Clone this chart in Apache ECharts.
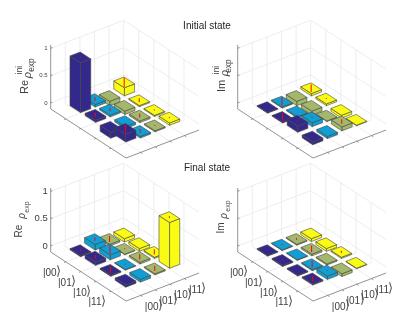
<!DOCTYPE html>
<html><head><meta charset="utf-8">
<style>html,body{margin:0;padding:0;background:#fff}#c{width:415px;height:317px}</style>
<script src="https://cdn.jsdelivr.net/npm/echarts@6/dist/echarts.min.js"></script>
</head><body><div id="c"></div>
<script>
const kets = ['|00','|01','|10','|11'];
const ketClose = '⟩';
const zTicks = [0, 0.5, 1];
const zTickLabels = ['0', '0.5', '1'];
const columnColors = ['#33288b', '#0f9fd6', '#a3b86d', '#fafb14'];

const reIniValues = [
  [0.91, 0.045, -0.08, 0.146],
  [0.04, 0.03, -0.06, -0.02],
  [-0.11, -0.04, -0.03, -0.02],
  [0.14, -0.03, -0.02, 0.04]];
const reIniErrors = [
  [0.01, 0.035, 0, 0.085],
  [0.035, 0.03, 0, 0.035],
  [0, 0, 0.035, 0.01],
  [0.08, 0.035, 0.008, 0.008]];
const imIniValues = [
  [-0.01, -0.02, -0.08, 0.04],
  [-0.01, -0.02, -0.07, 0.03],
  [0.11, 0.07, -0.01, -0.05],
  [-0.05, -0.04, 0.07, -0.01]];
const imIniErrors = [
  [0, 0.075, 0, 0.07],
  [0.07, 0, 0, 0.008],
  [0.01, 0.01, 0, 0],
  [0, 0, 0.04, 0]];
const reFinValues = [
  [-0.02, 0.10, -0.03, -0.06],
  [0.06, 0.09, -0.01, -0.05],
  [-0.02, -0.01, 0.03, 0.02],
  [-0.04, -0.05, -0.02, 0.835]];
const reFinErrors = [
  [0.02, 0.03, 0.055, 0],
  [0.03, 0.075, 0.008, 0],
  [0.06, 0.008, 0.05, 0.045],
  [0, 0, 0.045, 0.015]];
const imFinValues = [
  [-0.01, -0.01, -0.015, -0.05],
  [-0.02, -0.01, -0.03, -0.05],
  [-0.015, -0.02, -0.02, 0.02],
  [0.02, 0.06, -0.05, -0.01]];
const imFinErrors = [
  [0, 0.012, 0.015, 0],
  [0.008, 0, 0.06, 0],
  [0, 0.06, 0, 0.02],
  [0.05, 0.006, 0, 0]];

const panels = [
  {vals: reIniValues, errs: reIniErrors, L: [50.7, 109], zLabels: true, tickFont: 6, kets: false},
  {vals: imIniValues, errs: imIniErrors, L: [237.7, 109], zLabels: false, tickFont: 6, kets: false},
  {vals: reFinValues, errs: reFinErrors, L: [50.7, 252], zLabels: true, tickFont: 9.5, kets: true},
  {vals: imFinValues, errs: imFinErrors, L: [237.7, 252], zLabels: false, tickFont: 9.5, kets: true}
];

const barW = 0.7, floorZ = -0.11, topZ = 1;
const projX = (R, C) => 15.07 * R + 14.6 * C;
const projY = (R, C, z) => -9.8 * R + 5.6 * C + 54.7 * (z - floorZ);
const XR = [-40, 170], YR = [-60, 100];

const grids = [], xAxes = [], yAxes = [], series = [];

panels.forEach((p, pi) => {
  grids.push({left: p.L[0] + XR[0], top: p.L[1] - YR[1], width: XR[1] - XR[0], height: YR[1] - YR[0], show: false});
  xAxes.push({type: 'value', gridIndex: pi, min: XR[0], max: XR[1], show: false});
  yAxes.push({type: 'value', gridIndex: pi, min: YR[0], max: YR[1], show: false});

  const segs = [];
  [1, 2, 3, 4].forEach(i => {
    segs.push([i, 0, floorZ, i, 5, floorZ, 0]);
    segs.push([0, i, floorZ, 5, i, floorZ, 0]);
    segs.push([0, i, floorZ, 0, i, topZ, 0]);
    segs.push([i, 5, floorZ, i, 5, topZ, 0]);
    segs.push([i, 0, floorZ, i, -0.12, floorZ, 1]);
    segs.push([5, i, floorZ, 5.12, i, floorZ, 1]);
  });
  segs.push([0, 5, floorZ, 0, 5, topZ, 0]);
  zTicks.forEach(z => {
    segs.push([0, 0, z, 0, 5, z, 0]);
    segs.push([0, 5, z, 5, 5, z, 0]);
    segs.push([0, 0, z, 0, 0.12, z, 1]);
  });
  segs.push([0, 0, floorZ, 0, 0, 1.06, 1]);
  segs.push([0, 0, floorZ, 5, 0, floorZ, 1]);
  segs.push([5, 0, floorZ, 5, 5, floorZ, 1]);

  series.push({
    type: 'custom', xAxisIndex: pi, yAxisIndex: pi, silent: true, animation: false, clip: false,
    data: segs,
    encode: {x: 0, y: 1},
    renderItem(params, api) {
      const a = api.coord([projX(api.value(0), api.value(1)), projY(api.value(0), api.value(1), api.value(2))]);
      const b = api.coord([projX(api.value(3), api.value(4)), projY(api.value(3), api.value(4), api.value(5))]);
      const dark = api.value(6) === 1;
      return {type: 'line', shape: {x1: a[0], y1: a[1], x2: b[0], y2: b[1]},
        style: {stroke: dark ? '#777' : '#e9e9e9', lineWidth: 0.8}};
    }
  });

  const bars = [];
  for (let r = 0; r < 4; r++) for (let c = 3; c >= 0; c--) bars.push([r, c, p.vals[r][c], p.errs[r][c]]);
  series.push({
    type: 'custom', xAxisIndex: pi, yAxisIndex: pi, silent: true, animation: false, clip: false,
    data: bars,
    encode: {x: 0, y: 1},
    renderItem(params, api) {
      const r = api.value(0), c = api.value(1), v = api.value(2), e = api.value(3);
      const R = r + 1, C = c + 1, h = barW / 2;
      const zt = Math.max(0, v), zb = Math.min(0, v);
      const pt = (a, b, z) => api.coord([projX(a, b), projY(a, b, z)]);
      const style = {fill: columnColors[c], stroke: '#45453a', lineWidth: 0.6};
      const poly = pts => ({type: 'polygon', shape: {points: pts}, style});
      const kids = [
        poly([pt(R + h, C - h, zb), pt(R + h, C + h, zb), pt(R + h, C + h, zt), pt(R + h, C - h, zt)]),
        poly([pt(R - h, C - h, zb), pt(R + h, C - h, zb), pt(R + h, C - h, zt), pt(R - h, C - h, zt)]),
        poly([pt(R - h, C - h, zt), pt(R + h, C - h, zt), pt(R + h, C + h, zt), pt(R - h, C + h, zt)])
      ];
      if (e > 0) {
        const a = pt(R, C, zt - e), b = pt(R, C, zt + e);
        kids.push({type: 'line', shape: {x1: a[0], y1: a[1], x2: b[0], y2: b[1]}, style: {stroke: '#ff0000', lineWidth: 1}});
      }
      return {type: 'group', children: kids};
    }
  });

  const labels = [];
  if (p.zLabels) zTicks.forEach((z, i) => labels.push([0, 0, z, -3, 0, 0, i]));
  if (p.kets) kets.forEach((k, i) => {
    labels.push([i + 1, 0, floorZ, -14, 10, 1, i]);
    labels.push([5, i + 1, floorZ, 13, 10, 1, i]);
  });
  series.push({
    type: 'custom', xAxisIndex: pi, yAxisIndex: pi, silent: true, animation: false, clip: false,
    data: labels,
    encode: {x: 0, y: 1},
    renderItem(params, api) {
      const P = api.coord([projX(api.value(0), api.value(1)), projY(api.value(0), api.value(1), api.value(2))]);
      const isKet = api.value(5) === 1, i = api.value(6);
      const base = {x: P[0] + api.value(3), y: P[1] + api.value(4), fill: '#404040', verticalAlign: 'middle'};
      if (isKet) {
        return {type: 'text', style: Object.assign(base, {
          text: '{a|' + kets[i] + '}{b|' + ketClose + '}', align: 'center',
          rich: {
            a: {fontSize: 10, fontFamily: 'Liberation Sans', fill: '#404040', verticalAlign: 'bottom'},
            b: {fontSize: 13, fontFamily: 'DejaVu Sans', fontWeight: 200, fill: '#555', width: 4, verticalAlign: 'bottom'}
          }
        })};
      }
      return {type: 'text', style: Object.assign(base, {
        text: zTickLabels[i], align: 'right',
        font: p.tickFont + 'px "Liberation Sans", sans-serif'
      })};
    }
  });
});

const F = '"Liberation Sans", sans-serif';
function vtext(x, y, t, size, italic) {
  return {type: 'text', x, y, rotation: Math.PI / 2, silent: true, style: {
    text: t, fill: '#404040', align: 'center', verticalAlign: 'middle',
    font: (italic ? 'italic ' : '') + size + 'px ' + F}};
}
function title(x, y, t) {
  return {type: 'text', x, y, silent: true, style: {text: t, fill: '#262626', align: 'center', verticalAlign: 'middle', font: '10px ' + F}};
}
const graphics = [
  title(207, 26, 'Initial state'), title(207, 168, 'Final state'),
  vtext(25, 87, 'Re', 11), vtext(28, 75, 'ρ', 11, true), vtext(20, 70, 'ini', 8.5), vtext(32, 65, 'exp', 8.5),
  vtext(222, 86, 'Im', 11), vtext(225, 73, 'ρ', 11, true), vtext(217, 70, 'ini', 8.5), vtext(229, 66, 'exp', 8.5),
  vtext(19, 231, 'Re', 10), vtext(22, 216, 'ρ', 10, true), vtext(27, 207, 'exp', 7),
  vtext(221, 228, 'Im', 10), vtext(224, 216, 'ρ', 10, true), vtext(228, 206, 'exp', 7)
];

const chart = echarts.init(document.getElementById('c'), null, {renderer: 'canvas'});
chart.setOption({animation: false, backgroundColor: '#fff', grid: grids, xAxis: xAxes, yAxis: yAxes, series, graphic: graphics});
</script></body></html>
